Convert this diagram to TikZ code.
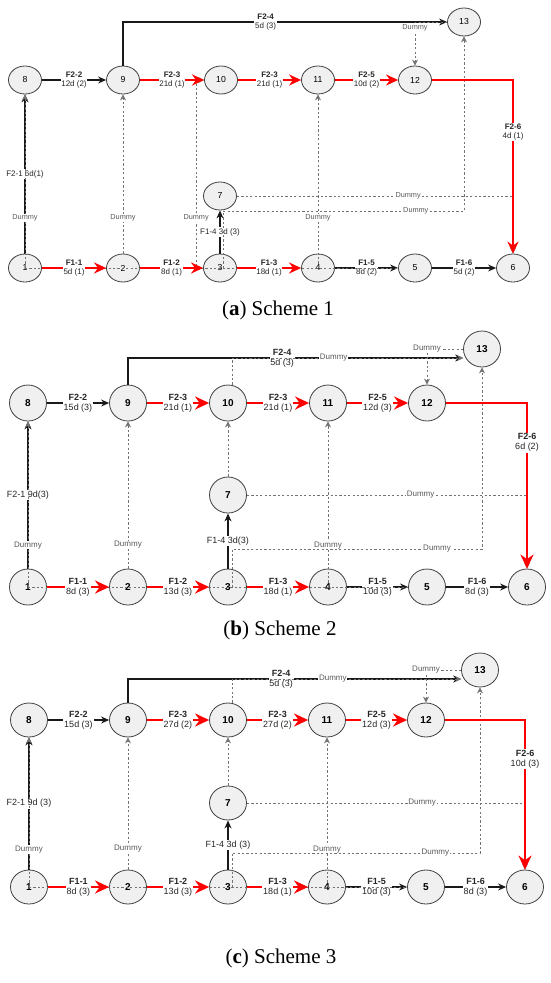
\documentclass[tikz,border=0pt]{standalone}
\usepackage{fontspec}
\setsansfont{Liberation Sans}
\newfontfamily\capfont{Liberation Serif}
\usepackage{tikz}
\usetikzlibrary{arrows.meta,positioning,calc,shapes.geometric}

\begin{document}
\begin{tikzpicture}[x=1pt,y=-1pt,
    ev/.style={ellipse,draw=black!75,fill=black!6,line width=0.8pt,inner sep=0pt},
    act/.style={draw=black!90,line width=1.1pt,-{Stealth[length=8pt,width=7pt]}},
    crit/.style={draw=red,line width=2.6pt,-{Stealth[length=12pt,width=11pt]}},
    dum/.style={draw=black!55,line width=0.9pt,dash pattern=on 2.2pt off 2.2pt,-{Stealth[length=6pt,width=6pt]}},
    ghost/.style={draw=black!55,line width=0.9pt,dash pattern=on 2.2pt off 2.2pt},
    lab/.style={fill=white,inner sep=0.8pt,align=center,text=black!85},
    dlab/.style={fill=white,inner sep=0.8pt,text=black!65},
    captxt/.style={font=\capfont\fontsize{21}{21}\selectfont}]
  \useasboundingbox (0,0) rectangle (550,983);

  % (a) Scheme 1
  \begin{scope}[ev/.append style={minimum width=33pt,minimum height=28pt,font=\sffamily\fontsize{8.7}{9}\selectfont},
      lab/.append style={font=\sffamily\fontsize{8}{9}\selectfont},
      dlab/.append style={font=\sffamily\fontsize{7.3}{8}\selectfont}]
    \foreach \n/\x/\y in {1/25/268,2/123/268,3/220/268,4/318/268,5/415/268,6/513/268,7/220/196,
                          8/25/80,9/123/80,10/221/80,11/318/80,12/415/80,13/464/22}
      \node[ev] (a\n) at (\x,\y) {\n};
    \draw[act] (a8) -- node[lab]{\textbf{F2-2}\\12d (2)} (a9);
    \draw[act] (a9.north) |- node[lab,pos=0.72]{\textbf{F2-4}\\5d (3)} (a13);
    \draw[act] (a4) -- node[lab]{\textbf{F1-5}\\8d (2)} (a5);
    \draw[act] (a5) -- node[lab]{\textbf{F1-6}\\5d (2)} (a6);
    \draw[act] (a1) -- node[lab]{F2-1 6d(1)} (a8);
    \draw[act] (a3) -- node[lab]{F1-4 3d (3)} (a7);
    \draw[ghost] (a1.center) -- (a5.west);
    \draw[dum] (a1.center) -- node[dlab,pos=0.287]{Dummy} (a8);
    \draw[dum] (a2) -- node[dlab,pos=0.225]{Dummy} (a9);
    \draw[dum] (a3.west) -- ++(-7,0) |- node[dlab,pos=0.133]{Dummy} (a10);
    \draw[dum] (a4.center) -- node[dlab,pos=0.287]{Dummy} (a11);
    \draw[dum] (a13) -| node[dlab,pos=0.57]{Dummy} (a12);
    \draw[dum] ([xshift=3pt]a3.center) -- ++(0,-57) -| node[dlab,pos=0.40]{Dummy} (a13);
    \draw[dum] (a7) -| node[dlab,pos=0.31]{Dummy} (a6);
    \draw[crit] (a1) -- node[lab]{\textbf{F1-1}\\5d (1)} (a2);
    \draw[crit] (a2) -- node[lab]{\textbf{F1-2}\\8d (1)} (a3);
    \draw[crit] (a3) -- node[lab]{\textbf{F1-3}\\18d (1)} (a4);
    \draw[crit] (a9) -- node[lab]{\textbf{F2-3}\\21d (1)} (a10);
    \draw[crit] (a10) -- node[lab]{\textbf{F2-3}\\21d (1)} (a11);
    \draw[crit] (a11) -- node[lab]{\textbf{F2-5}\\10d (2)} (a12);
    \draw[crit] (a12) -| node[lab,pos=0.65]{\textbf{F2-6}\\4d (1)} (a6);
    \node[captxt] (capa) at (278,310) {(\textbf{a}) Scheme 1};
  \end{scope}

  % (b) Scheme 2
  \begin{scope}[ev/.append style={minimum width=37pt,minimum height=36pt,font=\sffamily\bfseries\fontsize{10}{10}\selectfont},
      lab/.append style={font=\sffamily\fontsize{9}{10}\selectfont},
      dlab/.append style={font=\sffamily\fontsize{8}{9}\selectfont},
      crit/.append style={-{Stealth[length=14pt,width=13pt]}}]
    \foreach \n/\x/\y in {1/28/587,2/128/587,3/228/587,4/328/587,5/427/587,6/527/587,7/228/495,
                          8/28/403,9/128/403,10/228/403,11/328/403,12/427/403,13/482/349}
      \node[ev] (b\n) at (\x,\y) {\n};
    \draw[act] (b8) -- node[lab]{\textbf{F2-2}\\15d (3)} (b9);
    \draw[act] (b9.north) |- node[lab,pos=0.73]{\textbf{F2-4}\\5d (3)} ([yshift=-9pt]b13.west);
    \draw[act] (b4) -- node[lab]{\textbf{F1-5}\\10d (3)} (b5);
    \draw[act] (b5) -- node[lab]{\textbf{F1-6}\\8d (3)} (b6);
    \draw[act] (b1) -- node[lab]{F2-1 9d(3)} (b8);
    \draw[act] (b3) -- node[lab]{F1-4 3d(3)} (b7);
    \draw[ghost] (b1.center) -- (b5.west);
    \draw[dum] (b1.center) -- node[dlab,pos=0.253]{Dummy} (b8);
    \draw[dum] (b2) -- node[dlab,pos=0.16]{Dummy} (b9);
    \draw[dum] (b4.center) -- node[dlab,pos=0.253]{Dummy} (b11);
    \draw[dum] (b7) -- (b10);
    \draw[dum] ([xshift=4pt]b10.north) |- node[dlab,pos=0.72]{Dummy} ([yshift=-9pt]b13.west);
    \draw[dum] (b13) -| node[dlab]{Dummy} (b12);
    \draw[dum] ([xshift=4pt]b3.center) -- ++(0,-38) -| node[dlab,pos=0.41]{Dummy} (b13);
    \draw[dum] (b7) -| node[dlab,pos=0.31]{Dummy} (b6);
    \draw[crit] (b1) -- node[lab]{\textbf{F1-1}\\8d (3)} (b2);
    \draw[crit] (b2) -- node[lab]{\textbf{F1-2}\\13d (3)} (b3);
    \draw[crit] (b3) -- node[lab]{\textbf{F1-3}\\18d (1)} (b4);
    \draw[crit] (b9) -- node[lab]{\textbf{F2-3}\\21d (1)} (b10);
    \draw[crit] (b10) -- node[lab]{\textbf{F2-3}\\21d (1)} (b11);
    \draw[crit] (b11) -- node[lab]{\textbf{F2-5}\\12d (3)} (b12);
    \draw[crit] (b12) -| node[lab,pos=0.62]{\textbf{F2-6}\\6d (2)} (b6);
    \node[captxt] (capb) at (280,630) {(\textbf{b}) Scheme 2};
  \end{scope}

  % (c) Scheme 3
  \begin{scope}[ev/.append style={minimum width=37pt,minimum height=34pt,font=\sffamily\bfseries\fontsize{10}{10}\selectfont},
      lab/.append style={font=\sffamily\fontsize{9}{10}\selectfont},
      dlab/.append style={font=\sffamily\fontsize{8}{9}\selectfont},
      crit/.append style={-{Stealth[length=14pt,width=13pt]}}]
    \foreach \n/\x/\y in {1/29/887,2/128/887,3/228/887,4/327/887,5/426/887,6/525/887,7/228/803,
                          8/29/720,9/128/720,10/228/720,11/327/720,12/426/720,13/480/670}
      \node[ev] (c\n) at (\x,\y) {\n};
    \draw[act] (c8) -- node[lab]{\textbf{F2-2}\\15d (3)} (c9);
    \draw[act] (c9.north) |- node[lab,pos=0.73]{\textbf{F2-4}\\5d (3)} ([yshift=-9pt]c13.west);
    \draw[act] (c4) -- node[lab]{\textbf{F1-5}\\10d (3)} (c5);
    \draw[act] (c5) -- node[lab]{\textbf{F1-6}\\8d (3)} (c6);
    \draw[act] (c1) -- node[lab]{F2-1 9d (3)} (c8);
    \draw[act] (c3) -- node[lab]{F1-4 3d (3)} (c7);
    \draw[ghost] (c1.center) -- (c5.west);
    \draw[dum] (c1.center) -- node[dlab,pos=0.253]{Dummy} (c8);
    \draw[dum] (c2) -- node[dlab,pos=0.158]{Dummy} (c9);
    \draw[dum] (c4.center) -- node[dlab,pos=0.253]{Dummy} (c11);
    \draw[dum] (c7) -- (c10);
    \draw[dum] ([xshift=4pt]c10.north) |- node[dlab,pos=0.72]{Dummy} ([yshift=-9pt]c13.west);
    \draw[dum] (c13) -| node[dlab]{Dummy} (c12);
    \draw[dum] ([xshift=4pt]c3.center) -- ++(0,-34) -| node[dlab,pos=0.41]{Dummy} (c13);
    \draw[dum] (c7) -| node[dlab,pos=0.315]{Dummy} (c6);
    \draw[crit] (c1) -- node[lab]{\textbf{F1-1}\\8d (3)} (c2);
    \draw[crit] (c2) -- node[lab]{\textbf{F1-2}\\13d (3)} (c3);
    \draw[crit] (c3) -- node[lab]{\textbf{F1-3}\\18d (1)} (c4);
    \draw[crit] (c9) -- node[lab]{\textbf{F2-3}\\27d (2)} (c10);
    \draw[crit] (c10) -- node[lab]{\textbf{F2-3}\\27d (2)} (c11);
    \draw[crit] (c11) -- node[lab]{\textbf{F2-5}\\12d (3)} (c12);
    \draw[crit] (c12) -| node[lab,pos=0.63]{\textbf{F2-6}\\10d (3)} (c6);
    \node[captxt] (capc) at (281,958) {(\textbf{c}) Scheme 3};
  \end{scope}
\end{tikzpicture}
\end{document}
